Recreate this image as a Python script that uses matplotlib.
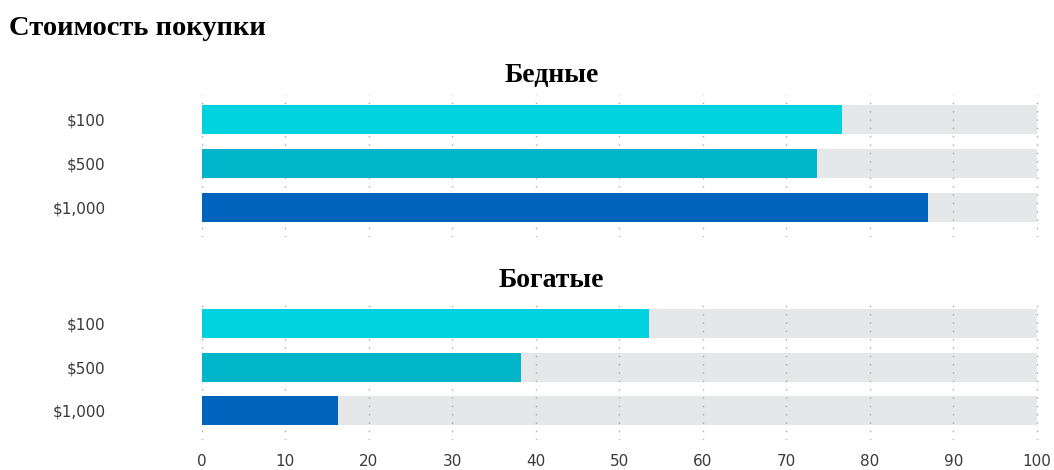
import matplotlib.pyplot as plt
from matplotlib import font_manager

# Данные
groups = ['Бедные', 'Богатые']
prices = ['$100', '$500', '$1,000']
poor = [76.7, 73.6, 87.0]
rich = [53.5, 38.2, 16.3]
colors = ['#00D2E0', '#00B4CA', '#0064BE']
x_ticks = list(range(0, 101, 10))

names = {f.name for f in font_manager.fontManager.ttflist}
label_font = 'Liberation Sans Narrow' if 'Liberation Sans Narrow' in names else 'DejaVu Sans'
title_font = 'Liberation Serif'

fig = plt.figure(figsize=(10.54, 4.70), dpi=100)
fig.text(0.009, 0.94, 'Стоимость покупки', family=title_font, weight='bold',
         fontsize=20.5, ha='left', va='center')

ax_top = fig.add_axes([0.19, 0.496, 0.797, 0.302])
ax_bot = fig.add_axes([0.19, 0.064, 0.797, 0.298])

for ax, vals, name in [(ax_top, poor, groups[0]), (ax_bot, rich, groups[1])]:
    ypos = range(len(prices))
    ax.barh(ypos, [100] * len(prices), height=0.66, color='#E6E7E8', zorder=1)
    ax.barh(ypos, vals, height=0.66, color=colors, zorder=3)
    ax.set_xlim(-0.2, 100.4)
    ax.set_ylim(2.67, -0.55)
    ax.set_xticks(x_ticks)
    ax.set_yticks(list(ypos))
    ax.set_yticklabels(prices, family=label_font, fontsize=11, color='#3a3a3a')
    ax.grid(axis='x', color='#AAAAAA', linestyle=(0, (1, 5)), linewidth=1, zorder=2)
    ax.tick_params(axis='both', length=0)
    ax.tick_params(axis='y', pad=68)
    for s in ax.spines.values():
        s.set_visible(False)
    ax.set_title(name, family=title_font, weight='bold', fontsize=20, pad=9, x=0.418)

ax_top.set_xticklabels([])
ax_bot.set_xticklabels([str(t) for t in x_ticks], family=label_font, fontsize=11, color='#3a3a3a')
ax_bot.tick_params(axis='x', pad=10)

fig.savefig('out.png', dpi=100)
